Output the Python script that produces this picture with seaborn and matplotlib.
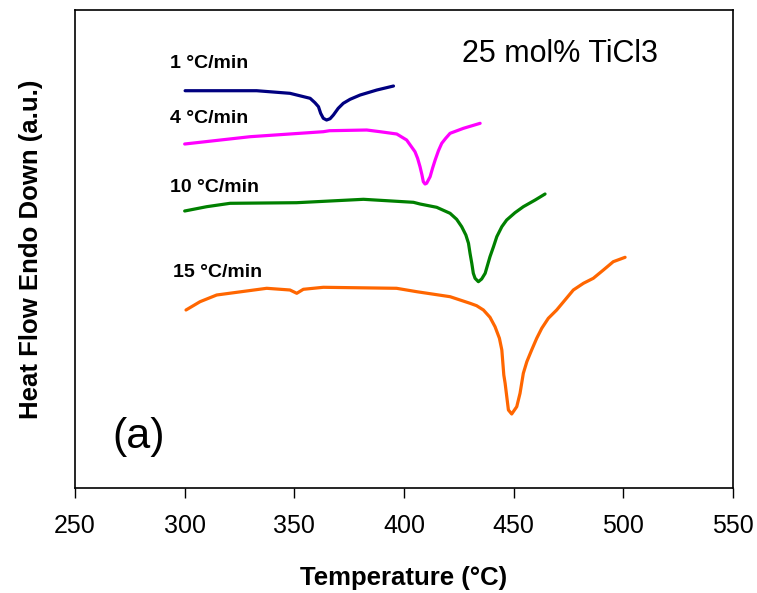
import matplotlib
matplotlib.use("Agg")
import matplotlib.pyplot as plt
import seaborn as sns
import pandas as pd

# ---- data (temperature in °C, heat flow in arbitrary units) ----
t_1 = [300.2, 332.8, 348.0, 357.2, 359.4, 361.0, 362.0, 363.2, 364.7, 366.3, 367.8, 370.0,
       372.3, 375.4, 380.0, 387.6, 395.2]
hf_1 = [39.73, 39.73, 39.47, 38.97, 38.53, 38.13, 37.47, 36.97, 36.8, 36.93, 37.3, 37.97,
        38.47, 38.87, 39.3, 39.8, 40.2]

t_4 = [300.0, 329.8, 363.2, 366.0, 383.0, 389.1, 396.7, 401.2, 405.0, 406.2, 407.3, 408.2,
       408.8, 409.6, 410.3, 411.9, 413.0, 414.2, 415.7, 417.2, 419.0, 421.0, 427.1, 434.7]
hf_4 = [34.4, 35.13, 35.63, 35.73, 35.8, 35.63, 35.4, 34.8, 33.63, 32.97, 32.13, 31.3,
        30.63, 30.4, 30.47, 31.13, 31.97, 32.8, 33.73, 34.47, 34.97, 35.47, 35.97, 36.47]

t_10 = [300.0, 310.0, 320.7, 351.0, 381.5, 404.3, 407.3, 414.9, 421.0, 424.0, 426.3, 428.2,
        429.4, 430.1, 430.9, 431.6, 432.4, 433.9, 435.4, 437.0, 439.2, 440.8, 442.3, 444.6,
        446.8, 450.6, 454.4, 459.8, 464.3]
hf_10 = [27.7, 28.13, 28.47, 28.53, 28.87, 28.57, 28.4, 28.07, 27.47, 26.87, 26.13, 25.3,
         24.47, 23.47, 22.47, 21.47, 20.97, 20.63, 20.9, 21.47, 23.13, 24.13, 25.13, 26.13,
         26.8, 27.53, 28.13, 28.8, 29.4]

t_15 = [300.6, 307.0, 314.6, 337.4, 348.0, 351.1, 354.1, 363.2, 396.6, 405.8, 421.0, 430.1,
        433.1, 436.2, 439.2, 441.5, 443.5, 444.6, 445.5, 446.1, 447.6, 449.1, 451.4, 452.9,
        454.4, 456.0, 458.2, 460.5, 462.8, 465.8, 469.6, 473.4, 477.2, 481.8, 486.3, 490.9,
        495.4, 500.8]
hf_15 = [17.8, 18.63, 19.3, 19.97, 19.8, 19.47, 19.87, 20.07, 19.97, 19.63, 19.13, 18.47,
         18.23, 17.8, 17.07, 16.13, 14.97, 13.8, 11.3, 10.47, 7.8, 7.4, 8.13, 9.47,
         11.47, 12.63, 13.8, 14.97, 15.97, 16.97, 17.8, 18.8, 19.8, 20.47, 20.97, 21.8,
         22.63, 23.07]

rate_labels = ["1 °C/min", "4 °C/min", "10 °C/min", "15 °C/min"]
colors = ["#000080", "#FF00FF", "#008000", "#FF6600"]
xticks = [250, 300, 350, 400, 450, 500, 550]

series = [(t_1, hf_1), (t_4, hf_4), (t_10, hf_10), (t_15, hf_15)]
frames = []
for lab, (t, hf) in zip(rate_labels, series):
    frames.append(pd.DataFrame({"T": t, "HF": hf, "rate": lab}))
df = pd.concat(frames, ignore_index=True)

sns.set_style("white")
plt.rcParams["font.family"] = ["Liberation Sans", "DejaVu Sans"]
plt.rcParams["text.color"] = "black"
plt.rcParams["axes.labelcolor"] = "black"
plt.rcParams["xtick.color"] = "black"

fig = plt.figure(figsize=(7.57, 5.93), dpi=100)
ax = fig.add_axes([0.0991, 0.1771, 0.8692, 0.806])

sns.lineplot(data=df, x="T", y="HF", hue="rate", palette=dict(zip(rate_labels, colors)),
             sort=False, estimator=None, linewidth=2.3, legend=False, ax=ax,
             solid_joinstyle="round", solid_capstyle="round")

ax.set_xlim(250, 550)
ax.set_ylim(0, 47.8)
ax.set_xticks(xticks)
ax.set_xticklabels([str(v) for v in xticks], fontsize=18, color="black")
ax.set_yticks([])
ax.tick_params(axis="x", direction="out", length=7, width=1.0, pad=12, colors="black",
               bottom=True)
for s in ax.spines.values():
    s.set_visible(True)
    s.set_color("black")
    s.set_linewidth(1.2)

ax.set_xlabel("Temperature (°C)", fontsize=18.5, fontweight="bold", labelpad=20, color="black")
ax.set_ylabel("Heat Flow Endo Down (a.u.)", fontsize=18.5, fontweight="bold", labelpad=23,
              color="black")

label_pos = [(293.3, 42.0), (293.3, 36.5), (293.3, 29.6), (294.7, 21.1)]
for lab, (x, y) in zip(rate_labels, label_pos):
    ax.text(x, y, lab, fontsize=14, fontweight="bold", ha="left", va="baseline", color="black")

ax.text(426.5, 42.6, "25 mol% TiCl3", fontsize=22, ha="left", va="baseline", color="black")
ax.text(266.9, 4.0, "(a)", fontsize=31, ha="left", va="baseline", color="black")

fig.savefig("out.png", dpi=100)
